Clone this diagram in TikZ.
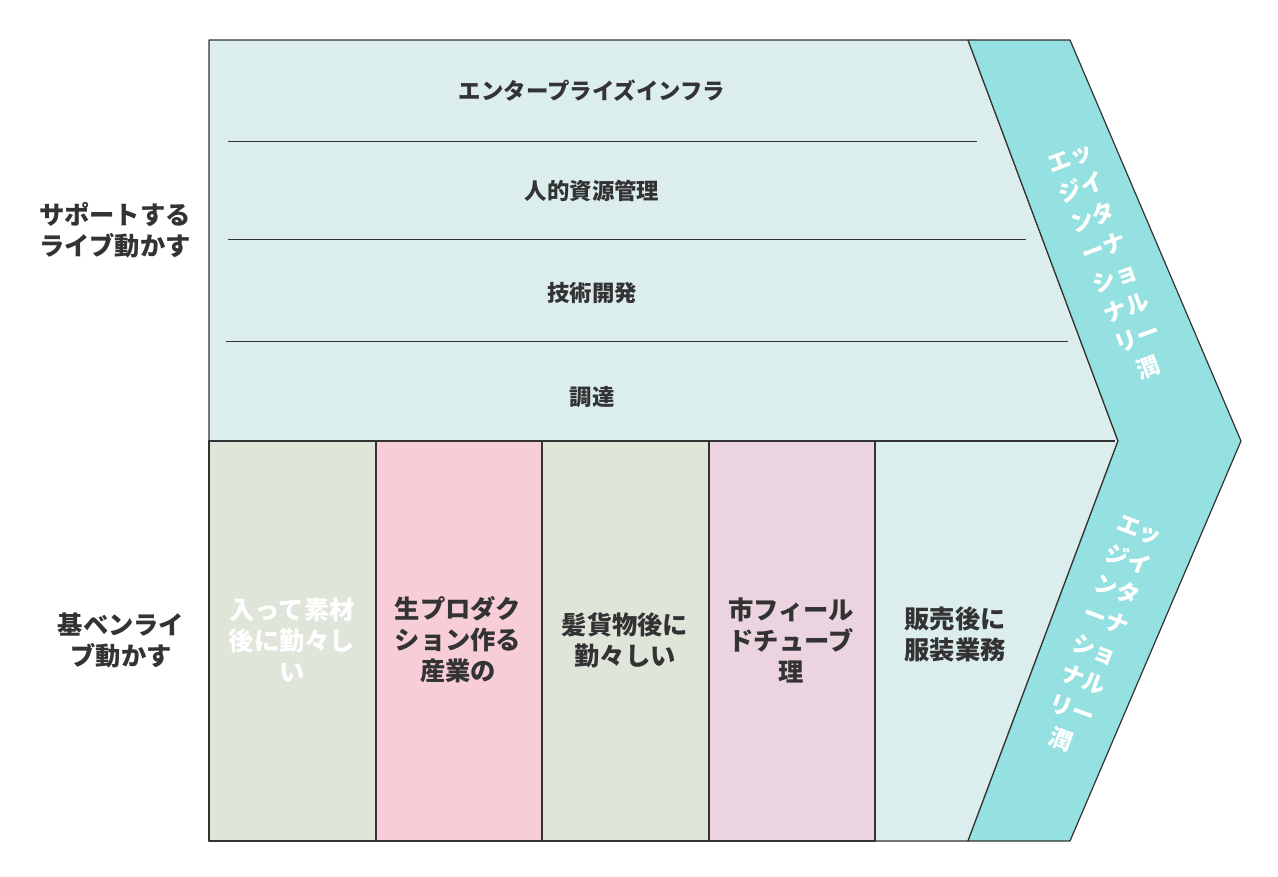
\documentclass[tikz,border=0pt]{standalone}
\usepackage{fontspec}
\setmainfont{Noto Sans CJK JP}
\usepackage{xcolor}
\definecolor{bgblue}{HTML}{DCEDED}
\definecolor{sage}{HTML}{E0E5DA}
\definecolor{rose}{HTML}{F7CED7}
\definecolor{mauve}{HTML}{EBD3DF}
\definecolor{aqua}{HTML}{95E0E0}
\definecolor{ink}{HTML}{333333}
\usepackage{tikz}
\usetikzlibrary{positioning}

\begin{document}
\begin{tikzpicture}[x=1pt,y=-1pt,line join=round,
  box/.style={draw=ink,line width=1.2pt},
  lbl/.style={font=\bfseries\fontsize{25.3}{31}\selectfont,text=ink,align=center},
  rowlbl/.style={lbl,font=\bfseries\fontsize{22.4}{31}\selectfont},
  margintxt/.style={lbl,text=white,font=\bfseries\fontsize{23}{32}\selectfont}]
\useasboundingbox (0,0) rectangle (1278,877);

% support activities and frame
\filldraw[box,fill=bgblue] (209,40) -- (968,40) -- (1118,441) -- (968,841) -- (209,841) -- cycle;
\draw[ink,line width=1pt] (228,142) -- (977,142);
\draw[ink,line width=1pt] (228,240) -- (1026,240);
\draw[ink,line width=1pt] (226,342) -- (1068,342);
\draw[ink,line width=1.2pt] (209,441) -- (1115,441);

% primary activities
\foreach \x/\w/\c in {209/167/sage,376/166/rose,542/167/sage,709/166/mauve}
  \filldraw[box,fill=\c] (\x,441) rectangle ++(\w,400);

% margin
\filldraw[box,fill=aqua] (968,40) -- (1070,40) -- (1241,441) -- (1070,841) -- (968,841) -- (1118,441) -- cycle;

\node[rowlbl] (infra) at (592,91) {エンタープライズインフラ};
\node[rowlbl] (hr) at (592,191) {人的資源管理};
\node[rowlbl] (tech) at (592,293) {技術開発};
\node[rowlbl] (proc) at (592,397) {調達};

\node[lbl] (support) at (115,230) {サポートする\\ライブ動かす};
\node[lbl] (primary) at (121,640) {基ベンライ\\ブ動かす};

\node[lbl,text=white] (inbound) at (292,640) {入って素材\\後に勤々し\\い};
\node[lbl] (ops) at (458,640) {生プロダク\\ション作る\\産業の};
\node[lbl] (outbound) at (625,640) {髪貨物後に\\勤々しい};
\node[lbl] (mkt) at (791,640) {市フィール\\ドチューブ\\理};
\node[lbl] (service) at (955,634) {販売後に\\服装業務};

\node[margintxt,rotate=20.5] (marginup) at (1110,264) {エッ\\ジイ\\ンタ\\ーナ\\ショ\\ナル\\リー\\潤};
\node[margintxt,rotate=-20.5] (marginlow) at (1100,636) {エッ\\ジイ\\ンタ\\ーナ\\ショ\\ナル\\リー\\潤};
\end{tikzpicture}
\end{document}
